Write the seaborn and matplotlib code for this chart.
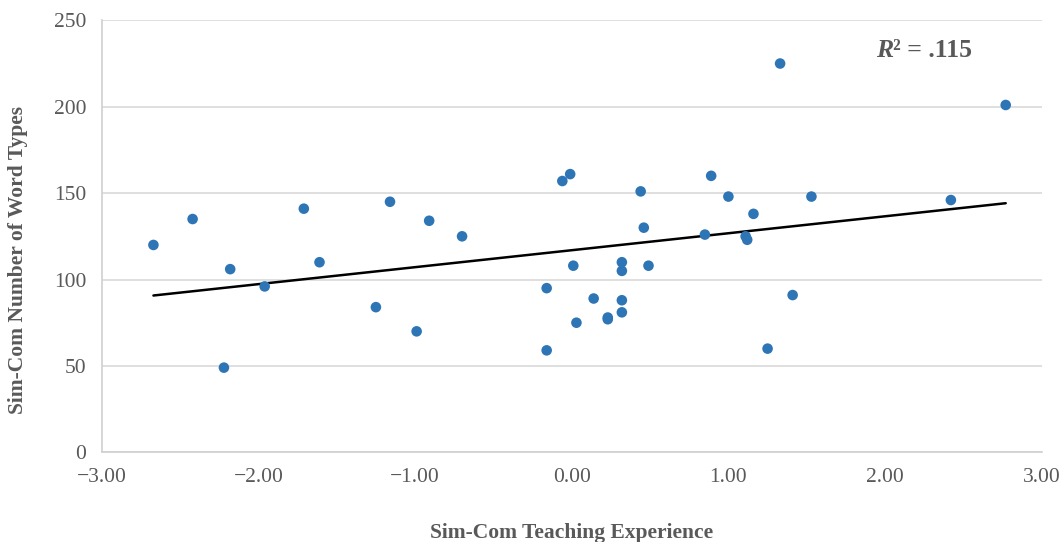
"""Scatter of Sim-Com teaching experience vs. number of word types, with linear fit."""
import matplotlib
matplotlib.use("Agg")
import matplotlib.pyplot as plt
import numpy as np
import pandas as pd
import seaborn as sns

# ── data ─────────────────────────────────────────────────────────────────────
experience = [
    -2.67, -2.42, -2.18, -2.22, -1.96, -1.71, -1.61, -1.25, -1.16, -0.99,
    -0.91, -0.70, -0.06, -0.01, -0.16, -0.16, 0.01, 0.03, 0.14, 0.23,
    0.23, 0.32, 0.32, 0.32, 0.32, 0.44, 0.46, 0.49, 0.89, 0.85,
    1.00, 1.11, 1.12, 1.16, 1.25, 1.33, 1.53, 1.41, 2.42, 2.77,
]
word_types = [
    120, 135, 106, 49, 96, 141, 110, 84, 145, 70,
    134, 125, 157, 161, 95, 59, 108, 75, 89, 78,
    77, 110, 105, 88, 81, 151, 130, 108, 160, 126,
    148, 125, 123, 138, 60, 225, 148, 91, 146, 201,
]
x_ticks = [-3, -2, -1, 0, 1, 2, 3]
x_tick_labels = ["\u22123.00", "\u22122.00", "\u22121.00", "0.00", "1.00", "2.00", "3.00"]
y_ticks = [0, 50, 100, 150, 200, 250]
r2_label = "\u00b2 = .115"

df = pd.DataFrame({"exp": experience, "types": word_types})

GREY = "#595959"
sns.set_style("white")
plt.rcParams["font.family"] = ["Liberation Serif", "DejaVu Serif"]

fig = plt.figure(figsize=(10.63, 5.42), dpi=100)
ax = fig.add_axes([0.0957, 0.1655, 0.8843, 0.797])

sns.regplot(data=df, x="exp", y="types", ax=ax, ci=None, truncate=True,
            scatter_kws={"s": 58, "color": "#2E75B6", "edgecolor": "none",
                         "alpha": 1, "zorder": 3},
            line_kws={"color": "black", "linewidth": 1.8, "zorder": 2})

ax.set_xlim(-3, 3)
ax.set_ylim(0, 250)
ax.set_xticks(x_ticks)
ax.set_xticklabels(x_tick_labels)
ax.set_yticks(y_ticks)
ax.yaxis.grid(True, color="#d9d9d9", linewidth=1.2)
ax.xaxis.grid(False)
ax.set_axisbelow(True)

for side in ("top", "right"):
    ax.spines[side].set_visible(False)
for side in ("left", "bottom"):
    ax.spines[side].set_color("#d0d0d0")
    ax.spines[side].set_linewidth(1.2)

ax.tick_params(axis="y", length=6, color="#d0d0d0", labelsize=15.5,
               labelcolor=GREY, pad=5)
ax.tick_params(axis="x", length=0, labelsize=15.5, labelcolor=GREY, pad=11)

ax.set_xlabel("Sim-Com Teaching Experience", fontsize=15.5, fontweight="bold",
              color=GREY, labelpad=26)
ax.set_ylabel("Sim-Com Number of Word Types", fontsize=15.5, fontweight="bold",
              color=GREY, labelpad=19, y=0.445)

# R² annotation: italic R, upright remainder
ax.text(0.842, 0.931, "R", transform=ax.transAxes, ha="right", va="center",
        fontsize=18.5, fontweight="bold", fontstyle="italic", color=GREY)
ax.text(0.842, 0.931, r2_label, transform=ax.transAxes, ha="left", va="center",
        fontsize=18.5, fontweight="bold", color=GREY)

fig.savefig("out.png", dpi=100)
